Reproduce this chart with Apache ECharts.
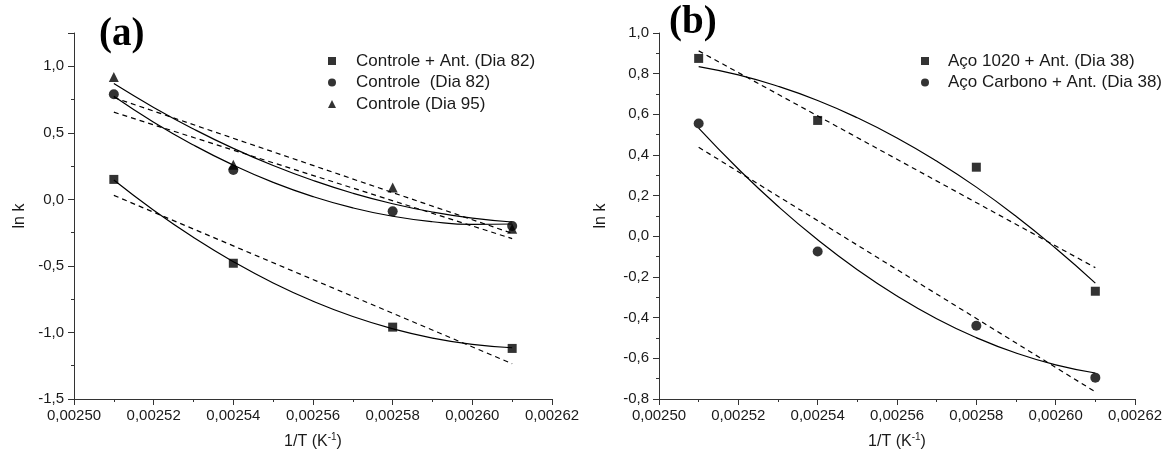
<!DOCTYPE html>
<html>
    <head>
        <title>ln k vs 1/T</title>
        <meta charset="UTF-8">
        <script src="https://cdn.jsdelivr.net/npm/echarts@6/dist/echarts.min.js"></script>
    </head>
    <body style="margin:0;background-color:#fff;">
        <div id="main" style="width:1173px;height:461px;"></div>
        <script>
            // measured points, x = 1/T
            var xPts = [0.00251, 0.00254, 0.00258, 0.00261];
            var a_ctrlAnt82 = [0.15, -0.48, -0.96, -1.12];
            var a_ctrl82 = [0.79, 0.22, -0.09, -0.20];
            var a_ctrl95 = [0.92, 0.26, 0.09, -0.22];
            var b_aco1020 = [0.875, 0.57, 0.34, -0.27];
            var b_acoCarb = [0.555, -0.075, -0.44, -0.695];

            // solid fit curves
            var xCurve = [0.00251, 0.00252, 0.00253, 0.00254, 0.00255, 0.00256, 0.00257, 0.00258, 0.00259, 0.00260, 0.00261];
            var a_ctrlAnt82_curve = [0.145, -0.082, -0.286, -0.468, -0.628, -0.765, -0.880, -0.972, -1.042, -1.090, -1.115];
            var a_ctrl82_curve = [0.775, 0.580, 0.408, 0.257, 0.128, 0.021, -0.064, -0.127, -0.168, -0.188, -0.185];
            var a_ctrl95_curve = [0.87, 0.691, 0.529, 0.383, 0.254, 0.142, 0.046, -0.033, -0.095, -0.141, -0.17];
            var b_aco1020_curve = [0.835, 0.794, 0.738, 0.668, 0.583, 0.484, 0.370, 0.242, 0.099, -0.059, -0.23];
            var b_acoCarb_curve = [0.532, 0.331, 0.148, -0.017, -0.164, -0.293, -0.405, -0.498, -0.574, -0.632, -0.672];

            // dashed linear fits, end points
            var xLine = [0.00251, 0.00261];
            var a_ctrlAnt82_line = [0.03, -1.235];
            var a_ctrl82_line = [0.655, -0.295];
            var a_ctrl95_line = [0.765, -0.255];
            var b_aco1020_line = [0.912, -0.154];
            var b_acoCarb_line = [0.438, -0.765];

            var legendA = ['Controle + Ant. (Dia 82)', 'Controle  (Dia 82)', 'Controle (Dia 95)'];
            var legendB = ['Aço 1020 + Ant. (Dia 38)', 'Aço Carbono + Ant. (Dia 38)'];

            var gb = {
                color: {
                    ink: '#000',
                    axis: '#333',
                    text: '#1a1a1a'
                },
                font: {
                    sans: 'Liberation Sans, Arial, sans-serif',
                    serif: 'Liberation Serif, Times New Roman, serif'
                }
            };

            function pairs(xs, ys) {
                var out = [];
                for (var i = 0; i < xs.length; i++) {
                    out.push([xs[i], ys[i]]);
                }
                return out;
            }

            function commaNum(v, d) {
                if (Math.abs(v) < 1e-12) {
                    v = 0;
                }
                return v.toFixed(d).replace('.', ',');
            }

            function xAxisOf(gridIndex) {
                return {
                    type: 'value',
                    gridIndex: gridIndex,
                    min: 0.00250,
                    max: 0.00262,
                    interval: 0.00002,
                    name: '1/T (K{sup|-1})',
                    nameLocation: 'middle',
                    nameGap: 33,
                    nameTextStyle: {
                        color: gb.color.text,
                        fontFamily: gb.font.sans,
                        fontSize: 16,
                        lineHeight: 20,
                        rich: {
                            sup: {
                                fontSize: 10,
                                lineHeight: 20,
                                verticalAlign: 'top',
                                color: gb.color.text,
                                fontFamily: gb.font.sans
                            }
                        }
                    },
                    axisLine: {
                        onZero: false,
                        lineStyle: {color: gb.color.axis, width: 1}
                    },
                    axisTick: {
                        length: 6,
                        lineStyle: {color: gb.color.axis}
                    },
                    minorTick: {
                        show: true,
                        splitNumber: 2,
                        length: 3,
                        lineStyle: {color: gb.color.axis}
                    },
                    axisLabel: {
                        color: gb.color.text,
                        fontFamily: gb.font.sans,
                        fontSize: 15,
                        margin: 9,
                        formatter: function (v) {
                            return commaNum(v, 5);
                        }
                    },
                    splitLine: {show: false}
                };
            }

            function yAxisOf(gridIndex, min, max, interval, gap) {
                return {
                    type: 'value',
                    gridIndex: gridIndex,
                    min: min,
                    max: max,
                    interval: interval,
                    name: 'ln k',
                    nameLocation: 'middle',
                    nameGap: gap,
                    nameTextStyle: {
                        color: gb.color.text,
                        fontFamily: gb.font.sans,
                        fontSize: 16
                    },
                    axisLine: {
                        onZero: false,
                        lineStyle: {color: gb.color.axis, width: 1}
                    },
                    axisTick: {
                        length: 6,
                        lineStyle: {color: gb.color.axis}
                    },
                    minorTick: {
                        show: true,
                        splitNumber: 2,
                        length: 3,
                        lineStyle: {color: gb.color.axis}
                    },
                    axisLabel: {
                        color: gb.color.text,
                        fontFamily: gb.font.sans,
                        fontSize: 15,
                        margin: 10,
                        showMaxLabel: (gridIndex === 1),
                        formatter: function (v) {
                            return commaNum(v, 1);
                        }
                    },
                    splitLine: {show: false}
                };
            }

            function points(name, idx, ys, symbol, size) {
                return {
                    name: name,
                    type: 'scatter',
                    xAxisIndex: idx,
                    yAxisIndex: idx,
                    data: pairs(xPts, ys),
                    symbol: symbol,
                    symbolSize: size,
                    itemStyle: {color: gb.color.ink},
                    z: 5
                };
            }

            function curve(idx, ys) {
                return {
                    type: 'line',
                    xAxisIndex: idx,
                    yAxisIndex: idx,
                    data: pairs(xCurve, ys),
                    smooth: true,
                    symbol: 'none',
                    lineStyle: {color: gb.color.ink, width: 1.2},
                    z: 3
                };
            }

            function dashed(idx, ys) {
                return {
                    type: 'line',
                    xAxisIndex: idx,
                    yAxisIndex: idx,
                    data: pairs(xLine, ys),
                    symbol: 'none',
                    lineStyle: {color: gb.color.ink, width: 1.2, type: [5, 4]},
                    z: 3
                };
            }

            var myChart = echarts.init(document.getElementById('main'), null, {renderer: 'canvas'});

            var option = {
                animation: false,
                backgroundColor: '#fff',
                title: [
                    {
                        text: '(a)',
                        left: 99,
                        top: 15,
                        padding: 0,
                        textStyle: {fontFamily: gb.font.serif, fontWeight: 'bold', fontSize: 39, color: gb.color.ink}
                    },
                    {
                        text: '(b)',
                        left: 669,
                        top: 3,
                        padding: 0,
                        textStyle: {fontFamily: gb.font.serif, fontWeight: 'bold', fontSize: 39, color: gb.color.ink}
                    }
                ],
                legend: [
                    {
                        data: [
                            {name: legendA[0], icon: 'rect'},
                            {name: legendA[1], icon: 'circle'},
                            {name: legendA[2], icon: 'triangle'}
                        ],
                        orient: 'vertical',
                        left: 328,
                        top: 51,
                        padding: 0,
                        itemWidth: 8,
                        itemHeight: 8,
                        itemGap: 1.5,
                        selectedMode: false,
                        textStyle: {
                            color: gb.color.text,
                            fontFamily: gb.font.sans,
                            fontSize: 17,
                            lineHeight: 20,
                            padding: [0, 0, 0, 15]
                        }
                    },
                    {
                        data: [
                            {name: legendB[0], icon: 'rect'},
                            {name: legendB[1], icon: 'circle'}
                        ],
                        orient: 'vertical',
                        left: 921,
                        top: 51,
                        padding: 0,
                        itemWidth: 8,
                        itemHeight: 8,
                        itemGap: 1.5,
                        selectedMode: false,
                        textStyle: {
                            color: gb.color.text,
                            fontFamily: gb.font.sans,
                            fontSize: 17,
                            lineHeight: 20,
                            padding: [0, 0, 0, 14]
                        }
                    }
                ],
                grid: [
                    {left: 74, right: 621, top: 33, bottom: 62},
                    {left: 659, right: 38, top: 33, bottom: 62}
                ],
                xAxis: [xAxisOf(0), xAxisOf(1)],
                yAxis: [
                    yAxisOf(0, -1.5, 1.25, 0.5, 46),
                    yAxisOf(1, -0.8, 1.0, 0.2, 50)
                ],
                series: [
                    curve(0, a_ctrlAnt82_curve),
                    curve(0, a_ctrl82_curve),
                    curve(0, a_ctrl95_curve),
                    dashed(0, a_ctrlAnt82_line),
                    dashed(0, a_ctrl82_line),
                    dashed(0, a_ctrl95_line),
                    points(legendA[0], 0, a_ctrlAnt82, 'rect', 9),
                    points(legendA[1], 0, a_ctrl82, 'circle', 10),
                    points(legendA[2], 0, a_ctrl95, 'triangle', 10),
                    curve(1, b_aco1020_curve),
                    curve(1, b_acoCarb_curve),
                    dashed(1, b_aco1020_line),
                    dashed(1, b_acoCarb_line),
                    points(legendB[0], 1, b_aco1020, 'rect', 9),
                    points(legendB[1], 1, b_acoCarb, 'circle', 10)
                ]
            };

            myChart.setOption(option);
        </script>
    </body>
</html>
